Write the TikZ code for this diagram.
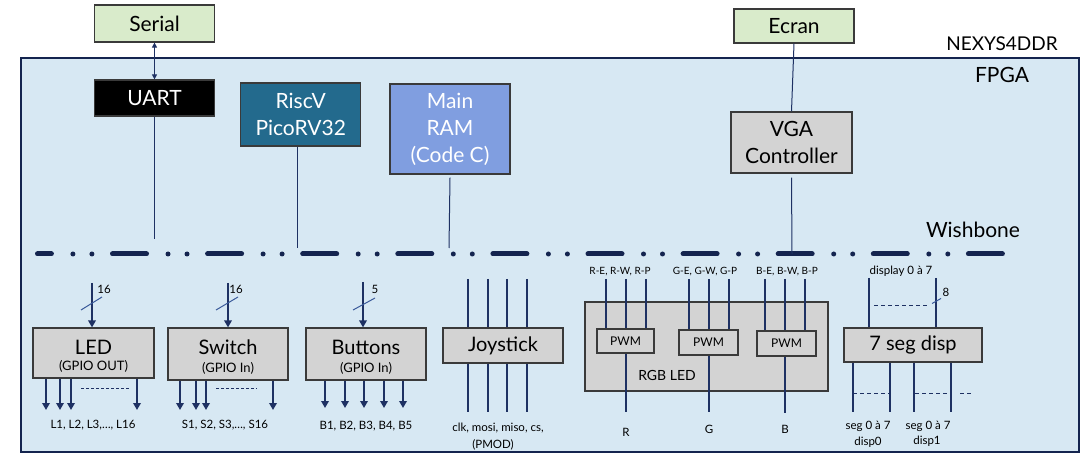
\documentclass[tikz,border=0pt]{standalone}
\usepackage{fontspec}
\setmainfont{Lato}
\usetikzlibrary{arrows.meta}
\definecolor{fpgafill}{HTML}{D7E8F3}
\definecolor{navy}{HTML}{14244F}
\definecolor{wire}{HTML}{1E3163}
\definecolor{slashc}{HTML}{3A5A9A}
\definecolor{greyfill}{HTML}{D3D3D3}
\definecolor{greenfill}{HTML}{D9EBCB}
\definecolor{riscfill}{HTML}{236A8D}
\definecolor{ramfill}{HTML}{809EE0}
\definecolor{boxline}{HTML}{3A3A3A}
\begin{document}
\begin{tikzpicture}[x=1pt,y=-1pt,
  box/.style={draw=boxline, line width=1.2pt, fill=greyfill, inner sep=0pt, align=center, text=black},
  bigtxt/.style={font=\fontsize{21}{27}\selectfont},
  midtxt/.style={font=\fontsize{19}{22}\selectfont},
  subtxt/.style={font=\fontsize{13}{15}\selectfont},
  smalltxt/.style={font=\fontsize{11.5}{14}\selectfont},
  tinytxt/.style={font=\fontsize{10}{12}\selectfont},
  thinwire/.style={draw=wire, line width=1pt},
  wirest/.style={draw=wire, line width=2.6pt},
  arrowwire/.style={draw=wire, line width=2.6pt, -{Triangle[length=7pt,width=7.5pt]}},
  slash/.style={draw=slashc, line width=1pt},
  dots/.style={draw=wire, line width=0.9pt, dash pattern=on 3pt off 2pt},
  sdots/.style={draw=wire, line width=0.9pt, dash pattern=on 4pt off 3pt},
]
\useasboundingbox[fill=white] (0,0) rectangle (1084,462);

% FPGA board
\node[draw=navy, line width=2.5pt, fill=fpgafill, minimum width=1058, minimum height=394, inner sep=0pt] (fpga) at (550,255) {};
\node[midtxt] (nexys) at (1002,44) {NEXYS4DDR};
\node[bigtxt] (fpgalbl) at (1002,75) {FPGA};
\node[bigtxt] (wb) at (973,230) {Wishbone};

% Bus
\draw[navy, line width=5pt, line cap=round, dash pattern=on 34pt off 21.5pt on 0pt off 19pt on 0pt off 20.6pt, dash phase=20.1pt] (37.5,254) -- (1002.5,254);

% top blocks
\node[box, bigtxt, fill=greenfill, minimum width=120, minimum height=37] (serial) at (154.5,23.5) {Serial};
\node[box, bigtxt, fill=black, text=white, minimum width=120, minimum height=36] (uart) at (154.5,98) {UART};
\node[box, bigtxt, fill=riscfill, text=white, minimum width=120, minimum height=63] (riscv) at (300.7,114.5) {RiscV\\PicoRV32};
\node[box, bigtxt, fill=ramfill, text=white, minimum width=120, minimum height=90] (ram) at (450,129) {Main\\RAM\\(Code C)};
\node[box, bigtxt, fill=greenfill, minimum width=120, minimum height=34] (ecran) at (794,26) {Ecran};
\node[box, bigtxt, minimum width=121, minimum height=61] (vga) at (791.5,142.5) {VGA\\Controller};

\coordinate (uartbus) at (154.5,239);
\coordinate (rvbus) at (297,248);
\coordinate (rambus) at (449,248);
\coordinate (vgabus) at (792,254);

\draw[thinwire, {Triangle[length=5pt,width=5pt]}-{Triangle[length=5pt,width=5pt]}] (serial.south) -- (uart.north);
\draw[thinwire] (uart.south) -- (uartbus);
\draw[thinwire] (rvbus |- riscv.south) -- (rvbus);
\draw[thinwire] (ram.south) ++(0,3) -- (rambus);
\draw[thinwire] (ecran.south) -- (vga.north);
\draw[thinwire] (vga.south) ++(0,4) -- (vgabus);

% LED
\node[box, minimum width=121, minimum height=50] (led) at (93.5,353) {};
\node[font=\fontsize{20}{24}\selectfont] (ledt) at (93.5,347) {LED};
\node[subtxt] (leds) at (93.5,366) {(GPIO OUT)};
\coordinate (ledin) at (92,283);
\draw[arrowwire] (ledin) -- (ledin |- led.north);
\draw[slash] (81,310) -- (102,297);
\node[smalltxt] (led16) at (104,289) {16};
\foreach \x [count=\i] in {46,60,71,137} {
  \coordinate (lo\i) at (\x,410);
  \draw[arrowwire] (lo\i |- led.south) -- (lo\i);
}
\draw[dots] (81,388) -- (130,388);
\node[smalltxt] (ledlbl) at (93,425) {L1, L2, L3,…, L16};

% Switch
\node[box, minimum width=120, minimum height=52] (sw) at (228,354) {};
\node[font=\fontsize{20}{24}\selectfont] (swt) at (228,347) {Switch};
\node[subtxt] (sws) at (228,368) {(GPIO In)};
\coordinate (swin) at (228,283);
\draw[arrowwire] (swin) -- (swin |- sw.north);
\draw[slash] (216,310) -- (238,297);
\node[smalltxt] (sw16) at (236,289) {16};
\foreach \x [count=\i] in {180,196,206,273} {
  \coordinate (so\i) at (\x,410);
  \draw[arrowwire] (so\i |- sw.south) -- (so\i);
}
\draw[dots] (216,388) -- (257,388);
\node[smalltxt] (swlbl) at (225,425) {S1, S2, S3,…, S16};

% Buttons
\node[box, minimum width=120, minimum height=52] (btn) at (366,354) {};
\node[font=\fontsize{20}{24}\selectfont] (btnt) at (366,347) {Buttons};
\node[subtxt] (btns) at (366,368) {(GPIO In)};
\coordinate (btnin) at (363,282);
\draw[arrowwire] (btnin) -- (btnin |- btn.north);
\draw[slash] (353,310) -- (375,298);
\node[smalltxt] (btn5) at (375,289) {5};
\foreach \x [count=\i] in {325,345,364,384,403} {
  \coordinate (bo\i) at (\x,408);
  \draw[arrowwire] (bo\i |- btn.south) -- (bo\i);
}
\node[smalltxt] (btnlbl) at (366,426) {B1, B2, B3, B4, B5};

% Joystick
\node[box, font=\fontsize{20}{24}\selectfont, minimum width=120, minimum height=35] (joy) at (503,345.5) {Joystick};
\foreach \x [count=\i] in {468,488,507,527} {
  \coordinate (jt\i) at (\x,279);
  \coordinate (jb\i) at (\x,412);
  \draw[wirest] (jt\i) -- (jt\i |- joy.north);
  \draw[wirest] (jb\i |- joy.south) -- (jb\i);
}
\node[smalltxt] (joylbl) at (498,428) {clk, mosi, miso, cs,};
\node[smalltxt] (pmod) at (493,445) {(PMOD)};

% RGB LED
\node[box, minimum width=243, minimum height=89] (rgb) at (706.5,346.5) {};
\node[font=\fontsize{14}{16}\selectfont] (rgbt) at (667,375) {RGB LED};
\node[box, font=\fontsize{12}{14}\selectfont, minimum width=57, minimum height=24] (pwm1) at (625.5,341) {PWM};
\node[box, font=\fontsize{12}{14}\selectfont, minimum width=59, minimum height=25] (pwm2) at (708.5,342.5) {PWM};
\node[box, font=\fontsize{12}{14}\selectfont, minimum width=59, minimum height=25] (pwm3) at (786.5,343.5) {PWM};
\foreach \x [count=\i] in {606,626,646} {
  \coordinate (ri\i) at (\x,279);
  \draw[wirest] (ri\i) -- (ri\i |- pwm1.north);
}
\foreach \x [count=\i] in {689,709,729} {
  \coordinate (gi\i) at (\x,279);
  \draw[wirest] (gi\i) -- (gi\i |- pwm2.north);
}
\foreach \x [count=\i] in {765,785,805} {
  \coordinate (bi\i) at (\x,279);
  \draw[wirest] (bi\i) -- (bi\i |- pwm3.north);
}
\coordinate (rout) at (626,412);
\coordinate (gout) at (709,412);
\coordinate (bout) at (785,413);
\draw[wirest] (rout |- pwm1.south) -- (rout);
\draw[wirest] (gout |- pwm2.south) -- (gout);
\draw[wirest] (bout |- pwm3.south) -- (bout);
\node[tinytxt] (rlbl) at (620,272) {R-E, R-W, R-P};
\node[tinytxt] (glbl) at (705,272) {G-E, G-W, G-P};
\node[tinytxt] (blbl) at (787,272) {B-E, B-W, B-P};
\node[smalltxt] (rl) at (626,432) {R};
\node[smalltxt] (gl) at (709,429) {G};
\node[smalltxt] (bl) at (785,429) {B};

% 7 seg
\node[box, font=\fontsize{20}{24}\selectfont, minimum width=138, minimum height=34] (seg) at (913,345) {7 seg disp};
\coordinate (si1) at (869,278);
\coordinate (si2) at (936,278);
\draw[wirest] (si1) -- (si1 |- seg.north);
\draw[wirest] (si2) -- (si2 |- seg.north);
\draw[sdots] (874,305) -- (927,305);
\draw[slash] (932,303.5) -- (941,298.5);
\node[smalltxt] (seg8) at (946,292) {8};
\node[smalltxt] (displbl) at (901,271) {display 0 à 7};
\foreach \x [count=\i] in {853,890,914,951} {
  \coordinate (sg\i) at (\x,412);
  \draw[wirest] (sg\i |- seg.south) -- (sg\i);
}
\draw[sdots] (853,393) -- (889,393);
\draw[sdots] (915,393) -- (950,393);
\draw[sdots] (960,393) -- (972,393);
\node[smalltxt] (s0a) at (868,426) {seg 0 à 7};
\node[smalltxt] (s0b) at (868,442) {disp0};
\node[smalltxt] (s1a) at (928,426) {seg 0 à 7};
\node[smalltxt] (s1b) at (927,441) {disp1};
\end{tikzpicture}
\end{document}
